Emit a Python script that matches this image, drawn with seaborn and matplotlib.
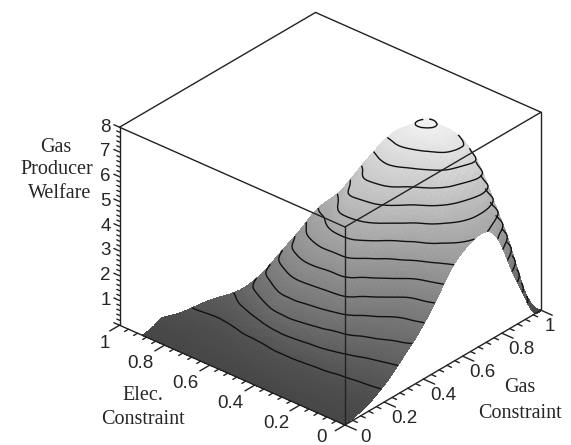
import numpy as np
import matplotlib
matplotlib.use("Agg")
import matplotlib.pyplot as plt
import matplotlib.tri as mtri
import seaborn as sns
from mpl_toolkits.mplot3d import proj3d

# welfare, one list per elec constraint value,
# gas constraint runs 0, 0.05, 0.10 ... up to the g + e = 1 edge
ELEC_00 = [0, .10, .22, .42, .68, 1.0, 1.38, 1.75, 2.2, 2.7, 3.3, 3.85, 4.2, 4.42, 4.5, 4.3, 3.5, 2.3, 1.27, .25, 0]
ELEC_05 = [0, .105, .235, .43, .76, 1.1, 1.52, 1.95, 2.35, 2.9, 3.55, 4.15, 4.6, 4.97, 5.2, 5.32, 5.1, 4.2, 2.9, 1.3]
ELEC_10 = [0, .11, .25, .47, .8, 1.23, 1.75, 2.1, 2.55, 3.15, 3.9, 4.6, 5.13, 5.7, 6.15, 6.6, 6.4, 5.0, 3.6]
ELEC_15 = [0, .12, .27, .5, .92, 1.45, 1.97, 2.45, 3.05, 3.68, 4.35, 5.0, 5.8, 6.57, 7.25, 7.35, 6.95, 5.9]
ELEC_20 = [0, .13, .3, .56, 1.07, 1.75, 2.3, 2.92, 3.52, 4.1, 4.9, 5.6, 6.35, 7.1, 7.7, 7.65, 7.25]
ELEC_25 = [0, .14, .32, .6, 1.25, 1.95, 2.85, 3.4, 4.0, 4.8, 5.55, 6.2, 6.75, 7.5, 8.05, 7.75]
ELEC_30 = [0, .15, .34, .65, 1.4, 2.2, 3.05, 3.8, 4.55, 5.2, 5.85, 6.45, 6.95, 7.55, 7.75]
ELEC_35 = [0, .16, .35, .7, 1.55, 2.35, 3.1, 3.85, 4.7, 5.3, 5.95, 6.42, 6.85, 7.4]
ELEC_40 = [0, .16, .36, .72, 1.7, 2.45, 3.2, 3.9, 4.6, 5.25, 5.75, 6.1, 6.6]
ELEC_45 = [0, .15, .35, .7, 1.7, 2.5, 3.2, 3.8, 4.3, 4.7, 5.15, 5.6]
ELEC_50 = [0, .14, .33, .6, 1.6, 2.4, 3.0, 3.6, 4.05, 4.45, 4.8]
ELEC_55 = [0, .13, .31, .55, 1.3, 2.1, 2.7, 3.25, 3.6, 4.05]
ELEC_60 = [0, .12, .28, .52, 1.08, 1.75, 2.35, 2.75, 3.05]
ELEC_65 = [0, .11, .25, .44, .9, 1.45, 1.85, 2.1]
ELEC_70 = [0, .10, .22, .40, .78, 1.15, 1.38]
ELEC_75 = [0, .08, .20, .42, .75, 1.05]
ELEC_80 = [0, .07, .2, .45, .8]
ELEC_85 = [0, .07, .22, .45]
ELEC_90 = [0, .06, .25]
ROWS = [ELEC_00, ELEC_05, ELEC_10, ELEC_15, ELEC_20, ELEC_25, ELEC_30, ELEC_35, ELEC_40, ELEC_45,
        ELEC_50, ELEC_55, ELEC_60, ELEC_65, ELEC_70, ELEC_75, ELEC_80, ELEC_85, ELEC_90]

LEVELS = [.6, 1.15, 1.7, 2.25, 2.8, 3.35, 3.9, 4.45, 5, 5.55, 6.1, 6.65, 7.2, 7.88]
AXIS_TICKS = [0, .2, .4, .6, .8, 1]
AXIS_LABELS = ["0", "0.2", "0.4", "0.6", "0.8", "1"]
Z_TICKS = [1, 2, 3, 4, 5, 6, 7, 8]

sns.set_style("white")
SANS = "Liberation Sans"
SERIF = "Liberation Serif"

gas, elec, welfare = [], [], []
for i, row in enumerate(ROWS):
    for j, val in enumerate(row):
        gas.append(j * .05)
        elec.append(i * .05)
        welfare.append(val)
gas, elec, welfare = np.array(gas), np.array(elec), np.array(welfare)
tri = mtri.Triangulation(gas, elec)
# only for smooth shading of the drawn surface, the values stay the ones above
smooth_tri, smooth_z = mtri.UniformTriRefiner(tri).refine_field(welfare, subdiv=2)

cmap = sns.blend_palette(["#474747", "#f2f2f2"], as_cmap=True)

fig = plt.figure(figsize=(5.71, 4.45), dpi=100)
ax = fig.add_subplot(projection="3d", computed_zorder=False)
ax.set_proj_type("ortho")
ax.view_init(elev=30.6, azim=-139)

ax.plot_trisurf(smooth_tri, smooth_z, cmap=cmap, vmin=0, vmax=8, linewidth=0, antialiased=False, shade=False, zorder=1)
ax.tricontour(smooth_tri, smooth_z, levels=LEVELS, colors="#111111", linewidths=1.0, zorder=2)

line = dict(color="#222222", lw=1.0, zorder=3)
# box edges that the reference shows
ax.plot([0, 0], [0, 0], [0, 8], **line)
ax.plot([0, 0], [0, 1], [8, 8], **line)
ax.plot([0, 1], [0, 0], [8, 8], **line)
ax.plot([0, 1], [1, 1], [8, 8], **line)
ax.plot([1, 1], [0, 1], [8, 8], **line)
ax.plot([1, 1], [0, 0], [0, 8], **line)
ax.plot([0, 0], [1, 1], [0, 8], **line)
ax.plot([0, 0], [0, 1], [0, 0], **line)
ax.plot([0, 1], [0, 0], [0, 0], **line)

# tick marks, majors every 0.2, minors every 0.04
for t in np.arange(0, 1.001, .04):
    size = .05 if round(t / .04) % 5 == 0 else .02
    ax.plot([t, t], [0, -size], [0, 0], **line)
    ax.plot([0, -size], [t, t], [0, 0], **line)
for z in np.arange(0, 8.01, .2):
    size = .025 if round(z / .2) % 5 == 0 else .012
    ax.plot([0, 0], [1, 1 + size], [z, z], **line)

ax.set_xlim(0, 1, view_margin=0)
ax.set_ylim(0, 1, view_margin=0)
ax.set_zlim(0, 8, view_margin=0)
ax.set_axis_off()


def to_px(g, e, z):
    x2, y2, _ = proj3d.proj_transform(g, e, z, ax.get_proj())
    return ax.transData.transform((x2, y2))


# fit the projected box on the pixels of the reference
ax.set_position([-.3, -.4, 1.6, 1.8])
ax.set_box_aspect((1, 1, .77))
fig.canvas.draw()
scale = 196 / (to_px(1, 0, 0)[0] - to_px(0, 0, 0)[0])
ax.set_box_aspect((1, 1, .77), zoom=scale)
fig.canvas.draw()
p0 = to_px(0, 0, 0)
ax.set_position([-.3 + (345 - p0[0]) / 571, -.4 + (20 - p0[1]) / 445, 1.6, 1.8])
fig.canvas.draw()


def tick_label(txt, g, e, z, dx, dy):
    px, py = to_px(g, e, z)
    fig.text((px + dx) / 571, (py + dy) / 445, txt, family=SANS, fontsize=13.5, ha="center", va="center")


for t, lab in zip(AXIS_TICKS, AXIS_LABELS):
    tick_label(lab, t, 0, 0, 9 if t == 1 else 20, -16 if t else -12)
    tick_label(lab, 0, t, 0, -15 if t == 1 else -24, -18 if t else -12)
for z in Z_TICKS:
    tick_label(str(z), 0, 1, z, -14, 0)

for txt, x, y in [("Gas", 56, 147), ("Producer", 57, 170), ("Welfare", 60, 193),
                  ("Elec.", 143, 395), ("Constraint", 143, 419),
                  ("Gas", 520, 388), ("Constraint", 520, 414)]:
    fig.text(x / 571, 1 - y / 445, txt, family=SERIF, fontsize=14.5, ha="center", va="center")

fig.savefig("out.png", dpi=100)
plt.close(fig)
